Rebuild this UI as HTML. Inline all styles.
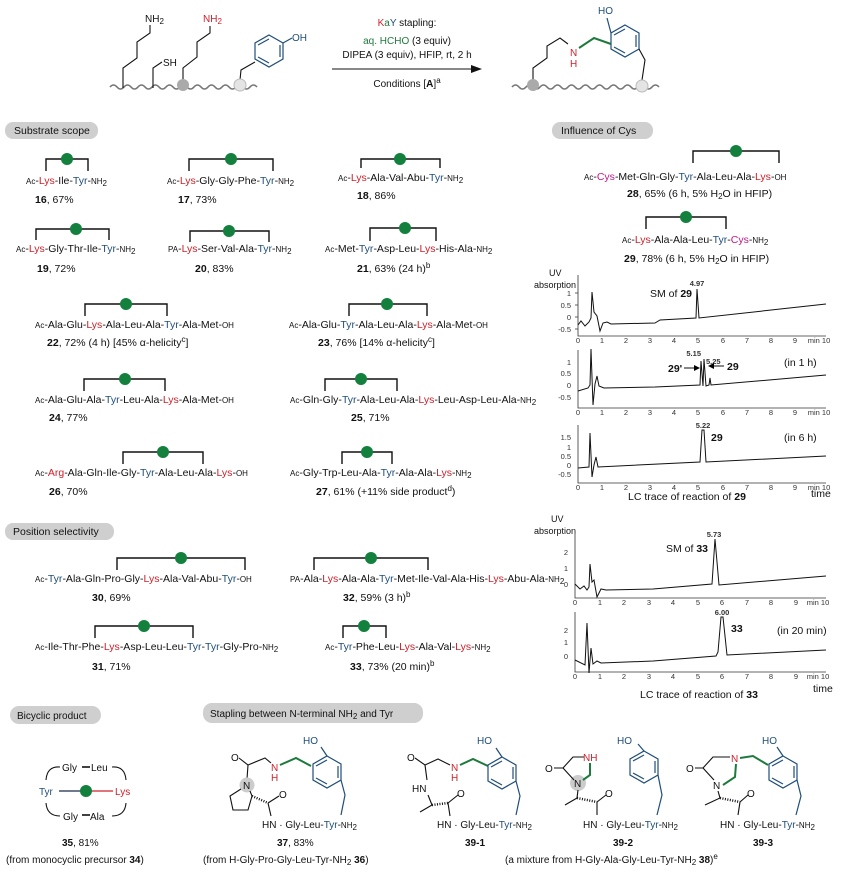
<!DOCTYPE html>
<html><head><meta charset="utf-8"><style>
body{margin:0;background:#fff}
svg{display:block;font-family:"Liberation Sans",Arial,sans-serif}
.t{font-size:10.5px;fill:#111}
.s{font-size:8px}
.r{fill:#d0202a}.b{fill:#1f4e79}.m{fill:#c0188a}.g{fill:#1e7a3c}
.br{fill:none;stroke:#111;stroke-width:1.4}
.dot{fill:#13803d}
.pill{fill:#cfcfcf}
.ax{stroke:#333;stroke-width:0.8;fill:none}
.tr{stroke:#111;stroke-width:1;fill:none}
.tk{font-size:7.5px;fill:#333}
.bl{stroke:#1f4e79;stroke-width:1.2;fill:none}
.k{stroke:#111;stroke-width:1.1;fill:none}
.gr{stroke:#1e7a3c;stroke-width:2;fill:none}
.rd{stroke:#d0202a;stroke-width:1.2;fill:none}
.hs{stroke:#111;stroke-width:2.5;stroke-dasharray:1 1.5;fill:none}
</style></head><body>
<svg width="850" height="874" viewBox="0 0 850 874" xmlns="http://www.w3.org/2000/svg">
<!-- TOP SCHEME -->
<path d="M110 87 q3.5-4 7 0 t7 0 t7 0 t7 0 t7 0 t7 0 t7 0 t7 0 t7 0 t7 0 t7 0 t7 0 t7 0 t7 0 t7 0 t7 0 t7 0 t7 0 t7 0 t7 0 t7 0" stroke="#777" stroke-width="1.6" fill="none"/>
<path d="M123 88 V68 L137 58 V42 L150 33 V25" class="k"/>
<text x="145" y="22" class="t" style="font-size:10px">NH<tspan class="s" dy="2">2</tspan></text>
<path d="M153 88 V68 L162 62" class="k"/>
<text x="163" y="66" class="t" style="font-size:10px">SH</text>
<path d="M183 80 V68 L197 57 V42 L210 33 V26" class="k"/>
<text x="203" y="22" class="t r" style="font-size:10px">NH<tspan class="s" dy="2">2</tspan></text>
<circle cx="183" cy="85" r="6" fill="#aaa"/>
<path d="M240 80 L241 70 L255 62" class="k"/>
<polygon points="269,35 283,43 283,59 269,67 255,59 255,43" class="bl"/>
<path d="M258 45 L269 39 M280 45 V57 M258 57 L269 63" class="bl"/>
<path d="M283 43 L292 38" class="bl"/>
<text x="292" y="41" class="t b" style="font-size:10px">OH</text>
<circle cx="240" cy="85" r="6" fill="#e4e4e4" stroke="#bbb"/>
<text x="407" y="26" class="t" text-anchor="middle" style="font-size:10px"><tspan class="r">K</tspan><tspan class="g">a</tspan><tspan class="b">Y</tspan> stapling:</text>
<text x="407" y="44" class="t" text-anchor="middle" style="font-size:10px"><tspan class="g">aq. HCHO</tspan> (3 equiv)</text>
<text x="407" y="58" class="t" text-anchor="middle" style="font-size:10px">DIPEA (3 equiv), HFIP, rt, 2 h</text>
<path d="M332 69 H474" stroke="#111" stroke-width="1"/><path d="M482 69 L471 65 L471 73 Z" fill="#111"/>
<text x="407" y="87" class="t" text-anchor="middle" style="font-size:10px">Conditions [<tspan font-weight="bold">A</tspan>]<tspan class="s" dy="-4">a</tspan></text>
<path d="M512 87 q3.5-4 7 0 t7 0 t7 0 t7 0 t7 0 t7 0 t7 0 t7 0 t7 0 t7 0 t7 0 t7 0 t7 0 t7 0 t7 0 t7 0 t7 0 t7 0 t7 0 t7 0 t7 0" stroke="#777" stroke-width="1.6" fill="none"/>
<path d="M533 80 V68 L547 58 V46 L560 38 L568 44" class="k"/>
<text x="570" y="56" class="t r" style="font-size:10px">N</text>
<text x="570" y="67" class="t r" style="font-size:10px">H</text>
<path d="M579 48 L594 38 L611 44" class="gr"/>
<polygon points="625,25 639,33 639,49 625,57 611,49 611,33" class="bl"/>
<path d="M614 35 L625 29 M636 35 V47 M614 47 L625 53" class="bl"/>
<path d="M611 33 L607 18" class="bl"/>
<text x="598" y="14" class="t b" style="font-size:10px">HO</text>
<path d="M639 49 L645 60 L642 80" class="k"/>
<circle cx="533" cy="85" r="6" fill="#aaa"/>
<circle cx="642" cy="86" r="6" fill="#e4e4e4" stroke="#bbb"/>

<!-- PILLS -->
<rect x="5" y="122" width="93" height="17" rx="8" class="pill"/><text x="14" y="134" class="t">Substrate scope</text>
<rect x="552" y="122" width="101" height="17" rx="8" class="pill"/><text x="561" y="134" class="t">Influence of Cys</text>
<rect x="5" y="523" width="109" height="17" rx="8" class="pill"/><text x="13" y="535" class="t">Position selectivity</text>
<rect x="10" y="706" width="91" height="18" rx="9" class="pill"/><text x="17" y="719" class="t" style="font-size:10px">Bicyclic product</text>
<rect x="203" y="703" width="220" height="20" rx="9" class="pill"/><text x="210" y="717" class="t" style="font-size:10px">Stapling between N-terminal NH<tspan class="s" dy="2">2</tspan><tspan dy="-2"> and Tyr</tspan></text>

<!-- SUBSTRATE SCOPE -->
<path d="M46 171 V159 H88 V171" class="br"/><circle cx="67" cy="159" r="6" class="dot"/>
<text x="26" y="184" class="t"><tspan class="s">Ac</tspan>-<tspan class="r">Lys</tspan>-Ile-<tspan class="b">Tyr</tspan>-<tspan class="s">NH<tspan dy="2">2</tspan></tspan></text>
<text x="35" y="203" class="t"><tspan font-weight="bold">16</tspan>, 67%</text>

<path d="M189 171 V159 H273 V171" class="br"/><circle cx="231" cy="159" r="6" class="dot"/>
<text x="167" y="184" class="t"><tspan class="s">Ac</tspan>-<tspan class="r">Lys</tspan>-Gly-Gly-Phe-<tspan class="b">Tyr</tspan>-<tspan class="s">NH<tspan dy="2">2</tspan></tspan></text>
<text x="178" y="203" class="t"><tspan font-weight="bold">17</tspan>, 73%</text>

<path d="M361 168 V159 H440 V168" class="br"/><circle cx="400" cy="159" r="6" class="dot"/>
<text x="338" y="181" class="t"><tspan class="s">Ac</tspan>-<tspan class="r">Lys</tspan>-Ala-Val-Abu-<tspan class="b">Tyr</tspan>-<tspan class="s">NH<tspan dy="2">2</tspan></tspan></text>
<text x="357" y="199" class="t"><tspan font-weight="bold">18</tspan>, 86%</text>

<path d="M36 240 V229 H109 V240" class="br"/><circle cx="76" cy="229" r="6" class="dot"/>
<text x="16" y="252" class="t"><tspan class="s">Ac</tspan>-<tspan class="r">Lys</tspan>-Gly-Thr-Ile-<tspan class="b">Tyr</tspan>-<tspan class="s">NH<tspan dy="2">2</tspan></tspan></text>
<text x="37" y="272" class="t"><tspan font-weight="bold">19</tspan>, 72%</text>

<path d="M190 242 V231 H269 V242" class="br"/><circle cx="229" cy="231" r="6" class="dot"/>
<text x="168" y="252" class="t"><tspan class="s">PA</tspan>-<tspan class="r">Lys</tspan>-Ser-Val-Ala-<tspan class="b">Tyr</tspan>-<tspan class="s">NH<tspan dy="2">2</tspan></tspan></text>
<text x="195" y="272" class="t"><tspan font-weight="bold">20</tspan>, 83%</text>

<path d="M370 241 V228 H436 V241" class="br"/><circle cx="405" cy="228" r="6" class="dot"/>
<text x="325" y="252" class="t"><tspan class="s">Ac</tspan>-Met-<tspan class="b">Tyr</tspan>-Asp-Leu-<tspan class="r">Lys</tspan>-His-Ala-<tspan class="s">NH<tspan dy="2">2</tspan></tspan></text>
<text x="357" y="272" class="t"><tspan font-weight="bold">21</tspan>, 63% (24 h)<tspan class="s" dy="-4">b</tspan></text>

<path d="M85 316 V304 H167 V316" class="br"/><circle cx="126" cy="304" r="6" class="dot"/>
<text x="35" y="328" class="t"><tspan class="s">Ac</tspan>-Ala-Glu-<tspan class="r">Lys</tspan>-Ala-Leu-Ala-<tspan class="b">Tyr</tspan>-Ala-Met-<tspan class="s">OH</tspan></text>
<text x="47" y="346" class="t"><tspan font-weight="bold">22</tspan>, 72% (4 h) [45% α-helicity<tspan class="s" dy="-4">c</tspan><tspan dy="4">]</tspan></text>

<path d="M349 316 V304 H427 V316" class="br"/><circle cx="387" cy="304" r="6" class="dot"/>
<text x="289" y="328" class="t"><tspan class="s">Ac</tspan>-Ala-Glu-<tspan class="b">Tyr</tspan>-Ala-Leu-Ala-<tspan class="r">Lys</tspan>-Ala-Met-<tspan class="s">OH</tspan></text>
<text x="318" y="346" class="t"><tspan font-weight="bold">23</tspan>, 76% [14% α-helicity<tspan class="s" dy="-4">c</tspan><tspan dy="4">]</tspan></text>

<path d="M84 391 V379 H165 V391" class="br"/><circle cx="125" cy="379" r="6" class="dot"/>
<text x="35" y="403" class="t"><tspan class="s">Ac</tspan>-Ala-Glu-Ala-<tspan class="b">Tyr</tspan>-Leu-Ala-<tspan class="r">Lys</tspan>-Ala-Met-<tspan class="s">OH</tspan></text>
<text x="49" y="421" class="t"><tspan font-weight="bold">24</tspan>, 77%</text>

<path d="M325 391 V379 H397 V391" class="br"/><circle cx="361" cy="379" r="6" class="dot"/>
<text x="290" y="403" class="t"><tspan class="s">Ac</tspan>-Gln-Gly-<tspan class="b">Tyr</tspan>-Ala-Leu-Ala-<tspan class="r">Lys</tspan>-Leu-Asp-Leu-Ala-<tspan class="s">NH<tspan dy="2">2</tspan></tspan></text>
<text x="351" y="421" class="t"><tspan font-weight="bold">25</tspan>, 71%</text>

<path d="M123 464 V452 H203 V464" class="br"/><circle cx="163" cy="452" r="6" class="dot"/>
<text x="35" y="476" class="t"><tspan class="s">Ac</tspan>-<tspan class="r">Arg</tspan>-Ala-Gln-Ile-Gly-<tspan class="b">Tyr</tspan>-Ala-Leu-Ala-<tspan class="r">Lys</tspan>-<tspan class="s">OH</tspan></text>
<text x="49" y="495" class="t"><tspan font-weight="bold">26</tspan>, 70%</text>

<path d="M342 464 V452 H392 V464" class="br"/><circle cx="367" cy="452" r="6" class="dot"/>
<text x="290" y="476" class="t"><tspan class="s">Ac</tspan>-Gly-Trp-Leu-Ala-<tspan class="b">Tyr</tspan>-Ala-Ala-<tspan class="r">Lys</tspan>-<tspan class="s">NH<tspan dy="2">2</tspan></tspan></text>
<text x="316" y="495" class="t"><tspan font-weight="bold">27</tspan>, 61% (+11% side product<tspan class="s" dy="-4">d</tspan><tspan dy="4">)</tspan></text>

<!-- POSITION SELECTIVITY -->
<path d="M117 570 V558 H245 V570" class="br"/><circle cx="181" cy="558" r="6" class="dot"/>
<text x="35" y="582" class="t"><tspan class="s">Ac</tspan>-<tspan class="b">Tyr</tspan>-Ala-Gln-Pro-Gly-<tspan class="r">Lys</tspan>-Ala-Val-Abu-<tspan class="b">Tyr</tspan>-<tspan class="s">OH</tspan></text>
<text x="92" y="601" class="t"><tspan font-weight="bold">30</tspan>, 69%</text>

<path d="M314 570 V558 H428 V570" class="br"/><circle cx="371" cy="558" r="6" class="dot"/>
<text x="290" y="582" class="t"><tspan class="s">PA</tspan>-Ala-<tspan class="r">Lys</tspan>-Ala-Ala-<tspan class="b">Tyr</tspan>-Met-Ile-Val-Ala-His-<tspan class="r">Lys</tspan>-Abu-Ala-<tspan class="s">NH<tspan dy="2">2</tspan></tspan></text>
<text x="343" y="601" class="t"><tspan font-weight="bold">32</tspan>, 59% (3 h)<tspan class="s" dy="-4">b</tspan></text>

<path d="M95 638 V626 H193 V638" class="br"/><circle cx="144" cy="626" r="6" class="dot"/>
<text x="35" y="650" class="t"><tspan class="s">Ac</tspan>-Ile-Thr-Phe-<tspan class="r">Lys</tspan>-Asp-Leu-Leu-<tspan class="b">Tyr</tspan>-<tspan class="b">Tyr</tspan>-Gly-Pro-<tspan class="s">NH<tspan dy="2">2</tspan></tspan></text>
<text x="92" y="670" class="t"><tspan font-weight="bold">31</tspan>, 71%</text>

<path d="M343 638 V626 H386 V638" class="br"/><circle cx="364" cy="626" r="6" class="dot"/>
<text x="325" y="650" class="t"><tspan class="s">Ac</tspan>-<tspan class="b">Tyr</tspan>-Phe-Leu-<tspan class="r">Lys</tspan>-Ala-Val-<tspan class="r">Lys</tspan>-<tspan class="s">NH<tspan dy="2">2</tspan></tspan></text>
<text x="350" y="670" class="t"><tspan font-weight="bold">33</tspan>, 73% (20 min)<tspan class="s" dy="-4">b</tspan></text>

<!-- INFLUENCE OF CYS -->
<path d="M693 163 V151 H779 V163" class="br"/><circle cx="736" cy="151" r="6" class="dot"/>
<text x="584" y="180" class="t"><tspan class="s">Ac</tspan>-<tspan class="m">Cys</tspan>-Met-Gln-Gly-<tspan class="b">Tyr</tspan>-Ala-Leu-Ala-<tspan class="r">Lys</tspan>-<tspan class="s">OH</tspan></text>
<text x="627" y="197" class="t"><tspan font-weight="bold">28</tspan>, 65% (6 h, 5% H<tspan class="s" dy="2">2</tspan><tspan dy="-2">O in HFIP)</tspan></text>
<path d="M646 229 V217 H726 V229" class="br"/><circle cx="686" cy="217" r="6" class="dot"/>
<text x="622" y="243" class="t"><tspan class="s">Ac</tspan>-<tspan class="r">Lys</tspan>-Ala-Ala-Leu-<tspan class="b">Tyr</tspan>-<tspan class="m">Cys</tspan>-<tspan class="s">NH<tspan dy="2">2</tspan></tspan></text>
<text x="624" y="262" class="t"><tspan font-weight="bold">29</tspan>, 78% (6 h, 5% H<tspan class="s" dy="2">2</tspan><tspan dy="-2">O in HFIP)</tspan></text>

<!-- charts 29 -->
<text x="549" y="276" class="t" style="font-size:9px">UV</text>
<text x="534" y="288" class="t" style="font-size:9px">absorption</text>
<g>
<path d="M578 275 V336 H826" class="ax"/>
<path d="M575 293H578M575 305H578M575 317H578M575 329H578" class="ax"/>
<text x="571" y="296" class="tk" text-anchor="end">1</text><text x="571" y="308" class="tk" text-anchor="end">0.5</text><text x="571" y="320" class="tk" text-anchor="end">0</text><text x="571" y="332" class="tk" text-anchor="end">-0.5</text>
<text x="578" y="343" class="tk" text-anchor="middle">0</text><text x="602" y="343" class="tk" text-anchor="middle">1</text><text x="626" y="343" class="tk" text-anchor="middle">2</text><text x="650" y="343" class="tk" text-anchor="middle">3</text><text x="674" y="343" class="tk" text-anchor="middle">4</text><text x="698" y="343" class="tk" text-anchor="middle">5</text><text x="723" y="343" class="tk" text-anchor="middle">6</text><text x="747" y="343" class="tk" text-anchor="middle">7</text><text x="771" y="343" class="tk" text-anchor="middle">8</text><text x="795" y="343" class="tk" text-anchor="middle">9</text><text x="819" y="343" class="tk" text-anchor="middle">min 10</text>
<path d="M578 325 L581 321 L585 326 L589 322 L591 318 L592 292 L594 312 L597 316 L600 331 L603 323 L607 322 L611 324 L655 323 L660 320 L696 318 L697 289 L699 318 L826 304" class="tr"/>
<text x="697" y="286" class="tk" text-anchor="middle" font-weight="bold">4.97</text>
<text x="650" y="297" class="t">SM of <tspan font-weight="bold">29</tspan></text>
</g>
<g>
<path d="M578 350 V408 H826" class="ax"/>
<text x="571" y="365" class="tk" text-anchor="end">1</text><text x="571" y="376" class="tk" text-anchor="end">0.5</text><text x="571" y="388" class="tk" text-anchor="end">0</text><text x="571" y="400" class="tk" text-anchor="end">-0.5</text>
<text x="578" y="415" class="tk" text-anchor="middle">0</text><text x="602" y="415" class="tk" text-anchor="middle">1</text><text x="626" y="415" class="tk" text-anchor="middle">2</text><text x="650" y="415" class="tk" text-anchor="middle">3</text><text x="674" y="415" class="tk" text-anchor="middle">4</text><text x="698" y="415" class="tk" text-anchor="middle">5</text><text x="723" y="415" class="tk" text-anchor="middle">6</text><text x="747" y="415" class="tk" text-anchor="middle">7</text><text x="771" y="415" class="tk" text-anchor="middle">8</text><text x="795" y="415" class="tk" text-anchor="middle">9</text><text x="819" y="415" class="tk" text-anchor="middle">min 10</text>
<path d="M578 391 L588 388 L590 385 L591 349 L593 405 L595 384 L597 376 L599 386 L604 388 L655 387 L700 385 L701 361 L703 386 L704 359 L706 386 L709 385 L710 378 L711 385 L826 375" class="tr"/>
<text x="701" y="356" class="tk" font-weight="bold" text-anchor="end">5.15</text><text x="706" y="364" class="tk" font-weight="bold">5.25</text>
<text x="668" y="372" class="t" font-weight="bold">29'</text><path d="M684 368 H698" stroke="#111"/><path d="M700 368 L694 365 V371Z"/>
<path d="M710 366 H724" stroke="#111"/><path d="M708 366 L714 363 V369Z"/><text x="727" y="370" class="t" font-weight="bold">29</text>
<text x="784" y="366" class="t">(in 1 h)</text>
</g>
<g>
<path d="M578 425 V483 H826" class="ax"/>
<text x="571" y="440" class="tk" text-anchor="end">1.5</text><text x="571" y="450" class="tk" text-anchor="end">1</text><text x="571" y="459" class="tk" text-anchor="end">0.5</text><text x="571" y="468" class="tk" text-anchor="end">0</text><text x="571" y="477" class="tk" text-anchor="end">-0.5</text>
<text x="578" y="490" class="tk" text-anchor="middle">0</text><text x="602" y="490" class="tk" text-anchor="middle">1</text><text x="626" y="490" class="tk" text-anchor="middle">2</text><text x="650" y="490" class="tk" text-anchor="middle">3</text><text x="674" y="490" class="tk" text-anchor="middle">4</text><text x="698" y="490" class="tk" text-anchor="middle">5</text><text x="723" y="490" class="tk" text-anchor="middle">6</text><text x="747" y="490" class="tk" text-anchor="middle">7</text><text x="771" y="490" class="tk" text-anchor="middle">8</text><text x="795" y="490" class="tk" text-anchor="middle">9</text><text x="819" y="490" class="tk" text-anchor="middle">min 10</text>
<path d="M578 468 L589 467 L590 433 L592 477 L594 465 L596 457 L598 467 L700 462 L702 430 L704 430 L706 462 L826 456" class="tr"/>
<text x="703" y="428" class="tk" font-weight="bold" text-anchor="middle">5.22</text>
<text x="711" y="441" class="t" font-weight="bold">29</text>
<text x="784" y="441" class="t">(in 6 h)</text>
</g>
<text x="628" y="500" class="t">LC trace of reaction of <tspan font-weight="bold">29</tspan></text>
<text x="811" y="497" class="t">time</text>

<!-- charts 33 -->
<text x="551" y="522" class="t" style="font-size:9px">UV</text>
<text x="534" y="534" class="t" style="font-size:9px">absorption</text>
<g>
<path d="M575 534 V598 H826" class="ax"/>
<text x="568" y="555" class="tk" text-anchor="end">2</text><text x="568" y="571" class="tk" text-anchor="end">1</text><text x="568" y="587" class="tk" text-anchor="end">0</text>
<text x="575" y="605" class="tk" text-anchor="middle">0</text><text x="600" y="605" class="tk" text-anchor="middle">1</text><text x="624" y="605" class="tk" text-anchor="middle">2</text><text x="649" y="605" class="tk" text-anchor="middle">3</text><text x="673" y="605" class="tk" text-anchor="middle">4</text><text x="698" y="605" class="tk" text-anchor="middle">5</text><text x="722" y="605" class="tk" text-anchor="middle">6</text><text x="747" y="605" class="tk" text-anchor="middle">7</text><text x="771" y="605" class="tk" text-anchor="middle">8</text><text x="796" y="605" class="tk" text-anchor="middle">9</text><text x="818" y="605" class="tk" text-anchor="middle">min 10</text>
<path d="M575 584 L580 589 L584 586 L587 590 L589 587 L590 564 L592 582 L594 580 L597 597 L601 589 L606 590 L653 589 L712 584 L715 539 L719 585 L826 576" class="tr"/>
<text x="714" y="537" class="tk" font-weight="bold" text-anchor="middle">5.73</text>
<text x="666" y="552" class="t">SM of <tspan font-weight="bold">33</tspan></text>
</g>
<g>
<path d="M575 612 V672 H826" class="ax"/>
<text x="568" y="633" class="tk" text-anchor="end">2</text><text x="568" y="645" class="tk" text-anchor="end">1</text><text x="568" y="659" class="tk" text-anchor="end">0</text>
<text x="575" y="679" class="tk" text-anchor="middle">0</text><text x="600" y="679" class="tk" text-anchor="middle">1</text><text x="624" y="679" class="tk" text-anchor="middle">2</text><text x="649" y="679" class="tk" text-anchor="middle">3</text><text x="673" y="679" class="tk" text-anchor="middle">4</text><text x="698" y="679" class="tk" text-anchor="middle">5</text><text x="722" y="679" class="tk" text-anchor="middle">6</text><text x="747" y="679" class="tk" text-anchor="middle">7</text><text x="771" y="679" class="tk" text-anchor="middle">8</text><text x="796" y="679" class="tk" text-anchor="middle">9</text><text x="818" y="679" class="tk" text-anchor="middle">min 10</text>
<path d="M575 660 L585 665 L587 623 L589 673 L591 648 L593 664 L597 661 L601 663 L653 661 L716 656 L718 652 L721 617 L723 617 L727 655 L826 650" class="tr"/>
<text x="722" y="615" class="tk" font-weight="bold" text-anchor="middle">6.00</text>
<text x="731" y="632" class="t" font-weight="bold">33</text>
<text x="777" y="634" class="t">(in 20 min)</text>
</g>
<text x="640" y="698" class="t">LC trace of reaction of <tspan font-weight="bold">33</tspan></text>
<text x="813" y="692" class="t">time</text>

<!-- BICYCLIC 35 -->
<text x="62" y="771" class="t" style="font-size:10px">Gly</text><path d="M82 767 H90" stroke="#111" stroke-width="1.6"/><text x="91" y="771" class="t" style="font-size:10px">Leu</text>
<path d="M60 767 Q47 766 46 780" class="k"/><path d="M112 767 Q125 766 126 780" class="k"/>
<text x="39" y="795" class="t b" style="font-size:10px">Tyr</text>
<path d="M59 791 H82" stroke="#1a2a4a" stroke-width="1.2"/><path d="M90 791 H113" class="rd"/>
<circle cx="86" cy="791" r="6" class="dot"/>
<text x="115" y="795" class="t r" style="font-size:10px">Lys</text>
<path d="M46 803 Q47 816 60 816" class="k"/><path d="M126 803 Q125 816 112 816" class="k"/>
<text x="63" y="820" class="t" style="font-size:10px">Gly</text><path d="M82 815 H90" stroke="#111" stroke-width="1.6"/><text x="90" y="820" class="t" style="font-size:10px">Ala</text>
<text x="62" y="846" class="t" style="font-size:10px"><tspan font-weight="bold">35</tspan>, 81%</text>
<text x="6" y="863" class="t" style="font-size:10px">(from monocyclic precursor <tspan font-weight="bold">34</tspan>)</text>

<!-- 37 -->
<text x="231" y="761" class="t" style="font-size:10px">O</text>
<path d="M239 758 L248 765 L265 758 L271 763" class="k"/>
<path d="M248 765 L247 779" class="k"/>
<text x="271" y="771" class="t r" style="font-size:10px">N</text><text x="271" y="781" class="t r" style="font-size:10px">H</text>
<path d="M280 765 L296 758 L311 766" class="gr"/>
<circle cx="247" cy="785" r="7.5" fill="#ccc"/><text x="243" y="789" class="t" style="font-size:10px">N</text>
<path d="M241 789 L230 796 L233 810 L248 810 L252 796 L250 791" class="k"/>
<path d="M252 796 L268 803" class="hs"/>
<path d="M268 803 L279 796" class="k"/><text x="279" y="798" class="t" style="font-size:10px">O</text>
<path d="M268 803 L271 816" class="k"/>
<polygon points="327,756 341,764 341,780 327,788 313,780 313,764" class="bl"/>
<path d="M316 766 L327 760 M338 766 V778 M316 778 L327 784" class="bl"/>
<path d="M327 756 L321 747"  class="bl"/><text x="303" y="744" class="t b" style="font-size:10px">HO</text>
<path d="M341 780 L345 795 L341 815" class="bl"/>
<text x="262" y="828" class="t" style="font-size:10px">HN · Gly-Leu-<tspan class="b">Tyr</tspan>-<tspan class="s">NH<tspan dy="2">2</tspan></tspan></text>
<text x="277" y="846" class="t" style="font-size:10px"><tspan font-weight="bold">37</tspan>, 83%</text>
<text x="203" y="863" class="t" style="font-size:10px">(from H-Gly-Pro-Gly-Leu-Tyr-NH<tspan class="s" dy="2">2</tspan><tspan dy="-2" font-weight="bold"> 36</tspan>)</text>

<!-- 39-1 -->
<text x="407" y="761" class="t" style="font-size:10px">O</text>
<path d="M415 758 L425 765 L438 759 L450 765" class="k"/>
<path d="M425 765 L427 780" class="k"/>
<text x="451" y="771" class="t r" style="font-size:10px">N</text><text x="451" y="781" class="t r" style="font-size:10px">H</text>
<path d="M460 765 L473 759 L488 766" class="gr"/>
<text x="412" y="792" class="t" style="font-size:10px">HN</text>
<path d="M428 795 L432 805" class="k"/><path d="M432 805 L420 812" class="k"/>
<path d="M432 805 L448 803" class="hs"/>
<path d="M448 803 L458 795" class="k"/><text x="457" y="797" class="t" style="font-size:10px">O</text>
<path d="M448 803 L450 816" class="k"/>
<polygon points="502,757 516,765 516,781 502,789 488,781 488,765" class="bl"/>
<path d="M491 767 L502 761 M513 767 V779 M491 779 L502 785" class="bl"/>
<path d="M502 757 L496 748" class="bl"/><text x="477" y="744" class="t b" style="font-size:10px">HO</text>
<path d="M516 781 L520 796 L516 815" class="bl"/>
<text x="437" y="828" class="t" style="font-size:10px">HN · Gly-Leu-<tspan class="b">Tyr</tspan>-<tspan class="s">NH<tspan dy="2">2</tspan></tspan></text>
<text x="465" y="846" class="t" font-weight="bold" style="font-size:10px">39-1</text>

<!-- 39-2 -->
<text x="545" y="772" class="t" style="font-size:10px">O</text>
<circle cx="578" cy="783" r="8" fill="#ccc"/>
<path d="M554 768 H563 L573 757 H584" class="k"/>
<path d="M563 768 L574 780" class="k"/>
<text x="583" y="761" class="t r" style="font-size:10px">NH</text>
<path d="M590 763 L590 775 L583 780" class="gr"/>
<text x="574" y="787" class="t" style="font-size:10px">N</text>
<path d="M578 790 L577 798 L565 805" class="k"/>
<path d="M577 798 L597 802" class="hs"/>
<path d="M597 802 L606 795" class="k"/><text x="605" y="797" class="t" style="font-size:10px">O</text>
<path d="M597 802 L597 815" class="k"/>
<polygon points="644,751 658,759 658,775 644,783 630,775 630,759" class="bl"/>
<path d="M633 761 L644 755 M655 761 V773 M633 773 L644 779" class="bl"/>
<path d="M644 751 L638 744" class="bl"/><text x="617" y="744" class="t b" style="font-size:10px">HO</text>
<path d="M658 775 L662 795 L657 815" class="bl"/>
<text x="583" y="828" class="t" style="font-size:10px">HN · Gly-Leu-<tspan class="b">Tyr</tspan>-<tspan class="s">NH<tspan dy="2">2</tspan></tspan></text>
<text x="613" y="846" class="t" font-weight="bold" style="font-size:10px">39-2</text>

<!-- 39-3 -->
<text x="686" y="772" class="t" style="font-size:10px">O</text>
<path d="M695 768 H703 L713 757 H730" class="k"/>
<path d="M703 768 L714 780" class="k"/>
<text x="731" y="762" class="t r" style="font-size:10px">N</text>
<path d="M736 764 L735 777 L723 785" class="gr"/>
<text x="713" y="789" class="t" style="font-size:10px">N</text>
<path d="M740 758 L753 756 L768 765" class="gr"/>
<path d="M718 791 L720 798 L705 805" class="k"/>
<path d="M720 798 L740 802" class="hs"/>
<path d="M740 802 L748 795" class="k"/><text x="747" y="797" class="t" style="font-size:10px">O</text>
<path d="M740 802 L738 815" class="k"/>
<polygon points="783,756 797,764 797,780 783,788 769,780 769,764" class="bl"/>
<path d="M772 766 L783 760 M794 766 V778 M772 778 L783 784" class="bl"/>
<path d="M783 756 L777 747" class="bl"/><text x="762" y="744" class="t b" style="font-size:10px">HO</text>
<path d="M797 780 L801 796 L796 815" class="bl"/>
<text x="720" y="828" class="t" style="font-size:10px">HN · Gly-Leu-<tspan class="b">Tyr</tspan>-<tspan class="s">NH<tspan dy="2">2</tspan></tspan></text>
<text x="753" y="846" class="t" font-weight="bold" style="font-size:10px">39-3</text>
<text x="505" y="863" class="t" style="font-size:10px">(a mixture from H-Gly-Ala-Gly-Leu-Tyr-NH<tspan class="s" dy="2">2</tspan><tspan dy="-2" font-weight="bold"> 38</tspan>)<tspan class="s" dy="-4">e</tspan></text>
</svg>
</body></html>
